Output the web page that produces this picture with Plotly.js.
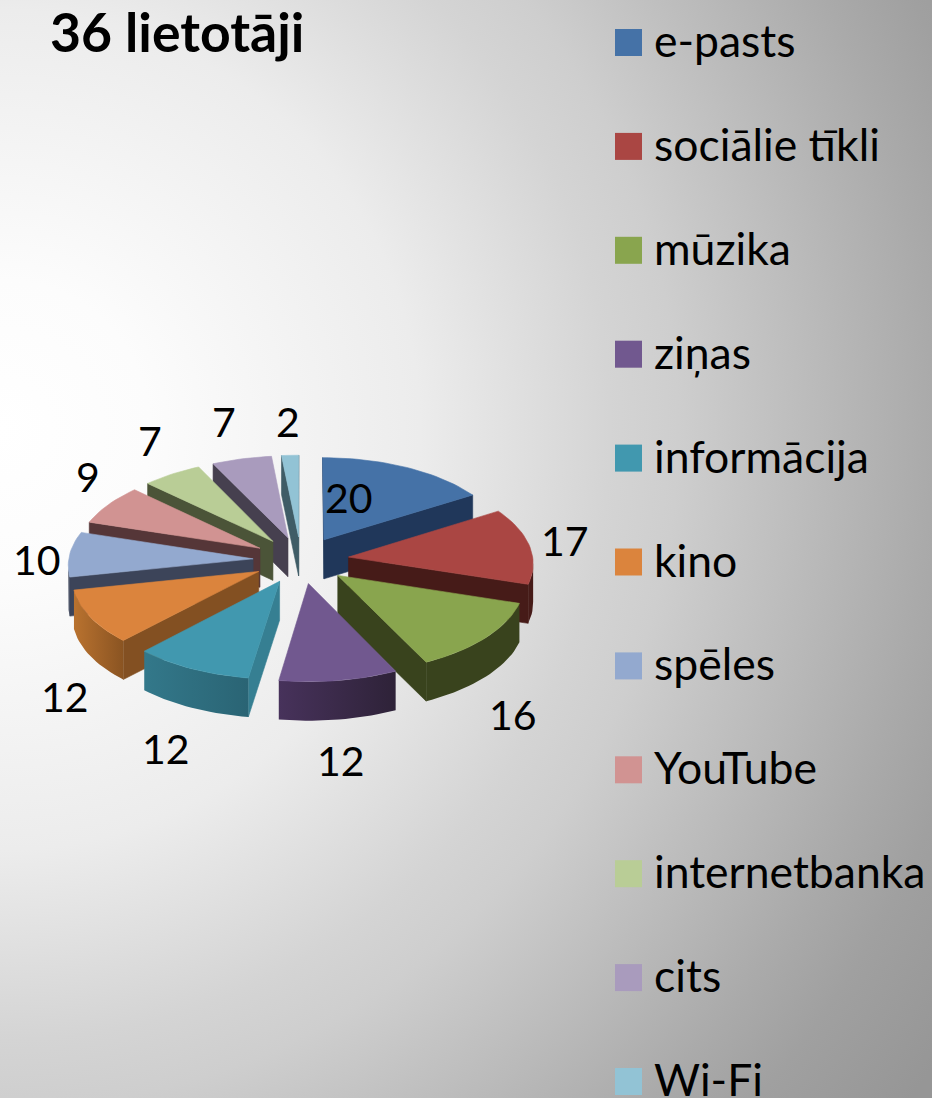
<!DOCTYPE html>
<html><head><meta charset="utf-8">
<script src="https://cdn.plot.ly/plotly-3.0.1.min.js"></script>
<style>
html,body{margin:0;padding:0;width:932px;height:1098px;overflow:hidden;
background:radial-gradient(circle at 0px 430px,#ffffff 0px,#fcfcfc 150px,#ececec 420px,#d4d4d4 610px,#cecece 678px,#aaaaaa 932px,#a0a0a0 1010px,#969696 1130px);}
#chart{width:932px;height:1098px;}
</style></head><body><div id="chart"></div>
<script>
const categories=["e-pasts","sociālie tīkli","mūzika","ziņas","informācija","kino","spēles","YouTube","internetbanka","cits","Wi-Fi"];
const values=[20,17,16,12,12,12,10,9,7,7,2];
const titleText="36 lietotāji";
const topColors=["#4572a7","#aa4643","#89a54e","#71588f","#4198af","#db843d","#93a9cf","#d19392","#b9cd96","#a99bbd","#92c3d5"];
const faceColors=["#20375a","#461b18","#39431d","#3a2a4a","#367f92","#835022","#3c4459","#553638","#4b5438","#46404f","#3f5c66"];
const rimLeft=["#20375a","#461b18","#39431d","#47325b","#33788a","#b9722f","#3c4459","#553638","#4b5438","#46404f","#3f5c66"];
const rimRight=["#20375a","#461b18","#39431d","#2e2238","#2a6474","#8a5422","#3c4459","#553638","#4b5438","#46404f","#3f5c66"];
const labelX=[349,565,513,341,166,65,37,88,150,224,288];
const labelY=[497,540,714,760,748,696,559,476,440,421,421];
const legendX=628.5,legendTextX=652,legendTop=42.5,legendStep=103.9,legendFont=44.5,legendTextShift=-3;
const cx=301,cy=560,rx=184.5,ry=90,persp=0.06,explode=0.26,depth=39;
const font="Lato, Carlito, 'Open Sans', sans-serif";

function proj(u,v){const p=1+persp*v;return [cx+rx*u*p,cy+ry*v*p];}
function poly(pts,color,name,grad){
  const t={type:"scatter",mode:"lines",x:pts.map(p=>p[0]).concat([pts[0][0]]),y:pts.map(p=>p[1]).concat([pts[0][1]]),
    fill:"toself",line:{color:grad?"rgba(0,0,0,0)":color,width:grad?0:0.6},hoverinfo:name?"name":"skip",name:name||"",showlegend:false};
  if(grad) t.fillgradient={type:"horizontal",colorscale:[[0,grad[0]],[1,grad[1]]]};
  else t.fillcolor=color;
  return t;
}
const total=values.reduce((a,b)=>a+b,0);
let acc=0;
const slices=values.map((v,i)=>{
  const a0=acc/total*2*Math.PI;acc+=v;const a1=acc/total*2*Math.PI;const mid=(a0+a1)/2;
  const ou=Math.sin(mid)*explode,ov=-Math.cos(mid)*explode;
  const n=Math.max(4,Math.ceil((a1-a0)/(Math.PI/90)));
  const rim=[];for(let k=0;k<=n;k++){const a=a0+(a1-a0)*k/n;rim.push(proj(ou+Math.sin(a),ov-Math.cos(a)));}
  return {i,mid,apex:proj(ou,ov),rim};
});
const traces=[];
const down=p=>[p[0],p[1]+depth];
slices.slice().sort((a,b)=>(-Math.cos(a.mid))-(-Math.cos(b.mid))).forEach(s=>{
  const i=s.i,rim=s.rim,start=rim[0],end=rim[rim.length-1];
  if(start[0]<s.apex[0]) traces.push(poly([s.apex,start,down(start),down(s.apex)],faceColors[i]));
  if(s.apex[0]<end[0]) traces.push(poly([end,s.apex,down(s.apex),down(end)],faceColors[i]));
  const front=rim.filter((p,k)=>(k<rim.length-1&&rim[k+1][0]<p[0])||(k>0&&p[0]<rim[k-1][0]));
  if(front.length>1){
    traces.push(poly(front.concat(front.slice().reverse().map(down)),null,null,[rimLeft[i],rimRight[i]]));
  }
  traces.push(poly([s.apex].concat(rim),topColors[i],categories[i]+": "+values[i]));
});
traces.push({type:"scatter",mode:"markers",x:categories.map(()=>legendX),y:categories.map((c,i)=>legendTop+i*legendStep),
  marker:{symbol:"square",size:27,color:topColors,line:{width:0}},hoverinfo:"skip",showlegend:false,cliponaxis:false});
const annotations=values.map((v,i)=>({x:labelX[i],y:labelY[i],xref:"x",yref:"y",text:String(v),showarrow:false,
  font:{family:font,size:41,color:"#000"},xanchor:"center",yanchor:"middle"}))
 .concat(categories.map((c,i)=>({x:legendTextX,y:legendTop+legendTextShift+i*legendStep,xref:"x",yref:"y",text:c,showarrow:false,
  font:{family:font,size:legendFont,color:"#000"},xanchor:"left",yanchor:"middle"})));
Plotly.newPlot("chart",traces,{
  width:932,height:1098,margin:{l:0,r:0,t:0,b:0,pad:0},
  paper_bgcolor:"rgba(0,0,0,0)",plot_bgcolor:"rgba(0,0,0,0)",showlegend:false,
  title:{text:"<b>"+titleText+"</b>",x:50/932,xanchor:"left",xref:"paper",y:1-33/1098,yanchor:"middle",yref:"container",font:{family:font,size:53.5,color:"#000"}},
  xaxis:{range:[0,932],visible:false,fixedrange:true},
  yaxis:{range:[1098,0],visible:false,fixedrange:true},
  annotations
},{displayModeBar:false,staticPlot:true});
</script></body></html>
